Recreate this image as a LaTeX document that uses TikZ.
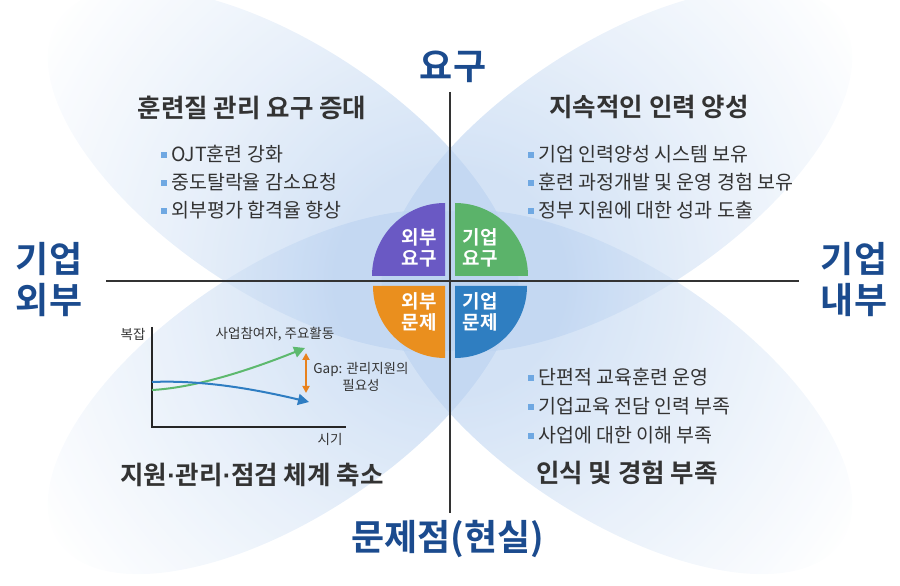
\documentclass[tikz,border=0pt]{standalone}
\usepackage{fontspec}
\setmainfont{Noto Sans CJK KR}[BoldFont={Noto Sans CJK KR Bold}]
\newfontfamily\dotfont{Liberation Sans}
\usepackage{tikz}
\usetikzlibrary{positioning, arrows.meta}
\definecolor{navyc}{HTML}{1B4B8E}
\definecolor{inkc}{HTML}{333333}
\definecolor{petalc}{HTML}{BCD3F0}
\definecolor{purc}{HTML}{6A59C4}
\definecolor{grnc}{HTML}{5BB36A}
\definecolor{orgc}{HTML}{EA8F1E}
\definecolor{bluc}{HTML}{2F7EC1}
\definecolor{bulc}{HTML}{6FA8E2}
\definecolor{cgrn}{HTML}{5DB96E}
\definecolor{cblu}{HTML}{2E7DC2}
\definecolor{corg}{HTML}{E8821E}
\pgfdeclareradialshading{petalglow}{\pgfpoint{0bp}{0bp}}{color(0bp)=(petalc);
  color(6bp)=(petalc); color(14bp)=(petalc!55!white); color(25bp)=(white);
  color(50bp)=(white)}
\newcommand{\sqb}{{\color{bulc}\rule[3.5pt]{6pt}{6pt}}\hspace{4pt}}
\newcommand{\mdot}{{\dotfont\bfseries ·}}
\tikzset{
  petal/.style = {shading=petalglow, fill opacity=0.65},
  axisln/.style= {line width=2pt, inkc},
  qtr/.style   = {font=\bfseries\fontsize{19}{20.5}\selectfont, text=white,
                  align=center, inner sep=0pt},
  big/.style   = {font=\bfseries\fontsize{36}{41}\selectfont, text=navyc,
                  align=center, inner sep=0pt},
  hd/.style    = {font=\bfseries\fontsize{25.5}{28}\selectfont, text=inkc,
                  inner sep=0pt},
  itm/.style   = {font=\fontsize{19.5}{22}\selectfont, text=inkc, anchor=west,
                  inner sep=0pt},
  lbl/.style   = {font=\fontsize{13.5}{17}\selectfont, text=inkc, inner sep=0pt},
  chax/.style  = {line width=2pt, black!85},
  ar/.style    = {-{Triangle[length=11pt, width=11pt]}, line width=2pt},
  gap/.style   = {{Triangle[length=7pt, width=7pt]}-{Triangle[length=7pt, width=7pt]},
                  line width=1.8pt, corg},
}

\begin{document}
\begin{tikzpicture}[x=1pt, y=1pt]
  \useasboundingbox (0,0) rectangle (900,586);
  \coordinate (mid) at (450,305);

  % background petals
  \foreach \px/\py/\ang in {283/416/-33.6, 617/416/33.6, 283/194/33.6, 617/194/-33.6} {
    \begin{scope}
      \clip[rotate around={\ang:(\px,\py)}] (\px,\py) ellipse [x radius=270, y radius=125];
      \shade[petal] (mid) circle (480);
    \end{scope}
  }

  % axes
  \coordinate (vt) at (450,494);
  \coordinate (vb) at (450,73);
  \coordinate (hl) at (106,305);
  \coordinate (hr) at (799,305);
  \draw[axisln] (vt) -- (vb);
  \draw[axisln] (hl) -- (hr);

  % quarter circles
  \fill[purc] (445,310) -- (445,383) arc[start angle=90, end angle=180, radius=73] -- cycle;
  \fill[grnc] (455,310) -- (528,310) arc[start angle=0, end angle=90, radius=73] -- cycle;
  \fill[orgc] (445,300) -- (373,300) arc[start angle=180, end angle=270, radius=72] -- cycle;
  \fill[bluc] (455,300) -- (455,228) arc[start angle=270, end angle=360, radius=72] -- cycle;
  \node[qtr] (eq) at (419,338) {외부\\요구};
  \node[qtr] (iq) at (480,338) {기업\\요구};
  \node[qtr] (ep) at (419,274) {외부\\문제};
  \node[qtr] (ip) at (480,274) {기업\\문제};

  % axis labels
  \node[big] (need) at (453,519) {요구};
  \node[big] (real) at (448,47)  {문제점(현실)};
  \node[big] (outs) at (49,306)  {기업\\외부};
  \node[big] (ins)  at (854,306) {기업\\내부};

  % top left
  \node[hd] (tlh) at (252,478) {훈련질 관리 요구 증대};
  \node[itm] (tl1) at (161,432) {\sqb OJT훈련 강화};
  \node[itm, below=28pt of tl1.west, anchor=west] (tl2) {\sqb 중도탈락율 감소요청};
  \node[itm, below=28pt of tl2.west, anchor=west] (tl3) {\sqb 외부평가 합격율 향상};

  % top right
  \node[hd] (trh) at (649,479) {지속적인 인력 양성};
  \node[itm] (tr1) at (528,432) {\sqb 기업 인력양성 시스템 보유};
  \node[itm, below=28pt of tr1.west, anchor=west] (tr2) {\sqb 훈련 과정개발 및 운영 경험 보유};
  \node[itm, below=28pt of tr2.west, anchor=west] (tr3) {\sqb 정부 지원에 대한 성과 도출};

  % bottom right
  \node[itm] (br1) at (528,209) {\sqb 단편적 교육훈련 운영};
  \node[itm, below=29pt of br1.west, anchor=west] (br2) {\sqb 기업교육 전담 인력 부족};
  \node[itm, below=29pt of br2.west, anchor=west] (br3) {\sqb 사업에 대한 이해 부족};
  \node[hd] (brh) at (627,113) {인식 및 경험 부족};

  % bottom left chart
  \coordinate (ytop) at (152,259);
  \coordinate (xend) at (346,159);
  \draw[chax] (ytop) |- (xend);
  \node[lbl] (cy) at (133,252) {복잡};
  \node[lbl] (cx) at (330,147) {시기};
  \node[lbl] (cs) at (275,252) {사업참여자, 주요활동};
  \coordinate (g0) at (152,196);
  \coordinate (g1) at (305,238);
  \coordinate (b0) at (152,204);
  \coordinate (b1) at (309,184);
  \draw[ar, cgrn] (g0) .. controls (190,198) and (240,212) .. (g1);
  \draw[ar, cblu] (b0) .. controls (200,206) and (250,198) .. (b1);
  \coordinate (gp0) at (306,193);
  \coordinate (gp1) at (306,233);
  \draw[gap] (gp0) -- (gp1);
  \node[lbl, align=center] (cg) at (361,209) {Gap: 관리지원의\\필요성};
  \node[hd] (blh) at (252,111) {지원\mdot 관리\mdot 점검 체계 축소};
\end{tikzpicture}
\end{document}
